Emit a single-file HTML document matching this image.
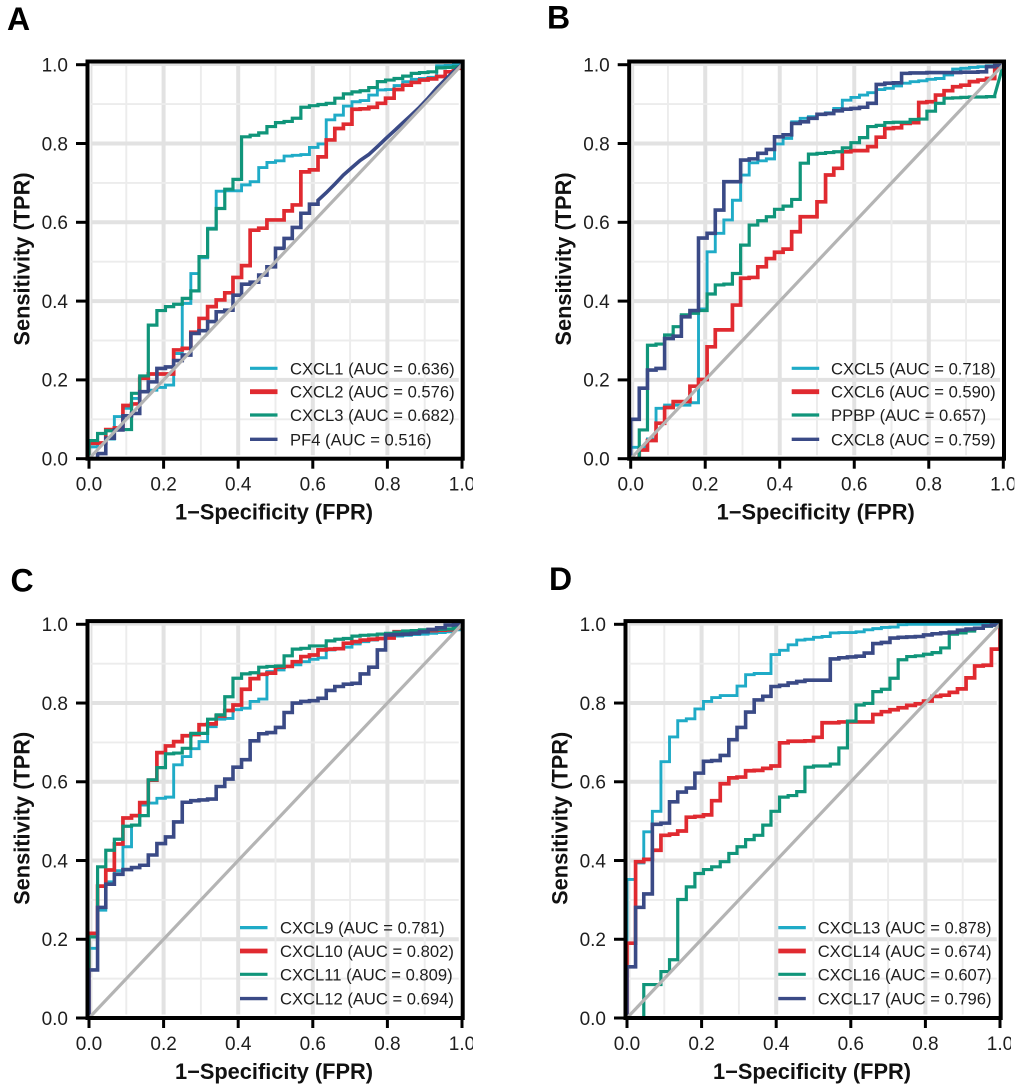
<!DOCTYPE html>
<html lang="en">
<head>
<meta charset="utf-8">
<title>ROC curves of CXCL chemokines</title>
<style>
html,body{margin:0;padding:0;background:#fff;}
svg{display:block;filter:blur(0.3px);}
text{font-family:"Liberation Sans",Arial,sans-serif;}
</style>
</head>
<body>
<svg id="figure" xmlns="http://www.w3.org/2000/svg" width="1020" height="1090" viewBox="0 0 1020 1090"></svg>
<script>
/* ---------- chart data ---------- */
const fprGrid = [0,.023,.045,.068,.091,.114,.136,.159,.182,.205,.227,.25,.273,.295,.318,.341,.364,.386,.409,.432,.455,.477,.5,.523,.545,.568,.591,.614,.636,.659,.682,.705,.727,.75,.773,.795,.818,.841,.864,.886,.909,.932,.955,.977,1];
const tickValues = [0,0.2,0.4,0.6,0.8,1];
const gridValues = [0,0.1,0.2,0.3,0.4,0.5,0.6,0.7,0.8,0.9,1];
const diagonalValues = [0,1];
const seriesColors = ['#1fabc7','#e02a30','#10957a','#3a4a86'];

const genesA = ['CXCL1','CXCL2','CXCL3','PF4'];
const aucA = [0.636,0.576,0.682,0.516];
const tprA1 = [.03,.04,.05,.107,.128,.153,.17,.174,.181,.187,.267,.394,.47,.51,.585,.679,.68,.68,.695,.703,.739,.752,.756,.768,.77,.772,.79,.799,.86,.872,.895,.906,.909,.923,.936,.937,.947,.957,.963,.965,.968,.997,.998,1,1];
const tprA2 = [.039,.04,.074,.078,.135,.139,.204,.215,.215,.215,.276,.28,.321,.356,.386,.403,.421,.46,.49,.58,.585,.606,.606,.629,.644,.728,.733,.766,.809,.838,.849,.887,.888,.892,.902,.915,.937,.948,.955,.961,.964,.97,.982,.991,1];
const tprA3 = [.046,.064,.071,.073,.074,.166,.21,.339,.376,.386,.392,.407,.426,.513,.583,.635,.684,.709,.817,.821,.827,.843,.853,.856,.864,.892,.896,.899,.902,.915,.926,.931,.934,.942,.957,.961,.965,.971,.978,.98,.982,.992,.993,.995,1];
const tprA4 = [0,.013,.052,.073,.109,.115,.17,.195,.229,.233,.249,.263,.318,.325,.348,.373,.377,.415,.443,.448,.466,.487,.534,.559,.587,.623,.646,.656,.675,.697,.72,.739,.757,.772,.792,.812,.832,.852,.872,.892,.915,.94,.962,.982,1];
const tiedTailStartA4 = 27;

const genesB = ['CXCL5','CXCL6','PPBP','CXCL8'];
const aucB = [0.718,0.590,0.657,0.759];
const tprB1 = [.029,.03,.05,.128,.136,.136,.136,.142,.38,.525,.572,.606,.656,.72,.751,.756,.761,.799,.813,.855,.864,.868,.875,.878,.889,.91,.917,.923,.929,.937,.94,.946,.953,.957,.959,.963,.965,.974,.989,.991,.993,.995,.997,.998,1];
const tprB2 = [0,.022,.046,.09,.13,.145,.145,.184,.201,.284,.327,.327,.39,.458,.46,.487,.508,.524,.532,.576,.614,.614,.652,.72,.737,.779,.782,.782,.792,.816,.838,.84,.851,.853,.904,.906,.923,.934,.944,.948,.957,.961,.965,.991,1];
const tprB3 = [0,.073,.288,.291,.314,.335,.365,.369,.376,.418,.441,.443,.47,.542,.593,.604,.614,.633,.641,.658,.75,.773,.775,.777,.779,.789,.802,.815,.843,.846,.853,.854,.854,.861,.862,.882,.902,.915,.916,.917,.918,.918,.919,.923,1];
const tprB4 = [.1,.179,.225,.229,.305,.311,.36,.376,.56,.572,.631,.703,.703,.758,.761,.775,.785,.817,.822,.851,.855,.864,.874,.876,.883,.887,.889,.892,.902,.95,.953,.954,.978,.979,.979,.98,.98,.98,.98,.981,.981,.982,.995,.998,1];
const tiedTailStartB3 = 43;

const genesC = ['CXCL9','CXCL10','CXCL11','CXCL12'];
const aucC = [0.781,0.802,0.809,0.694];
const tprC1 = [.177,.274,.346,.374,.435,.49,.541,.546,.558,.561,.643,.664,.684,.702,.74,.759,.761,.783,.787,.804,.81,.88,.884,.893,.897,.905,.911,.915,.935,.937,.942,.95,.956,.96,.964,.967,.97,.972,.974,.975,.977,.979,.981,.986,1];
const tprC2 = [.215,.335,.376,.442,.508,.514,.547,.604,.674,.691,.702,.717,.72,.745,.747,.767,.781,.795,.835,.862,.873,.876,.891,.893,.905,.918,.922,.935,.937,.938,.952,.956,.96,.962,.964,.965,.981,.981,.982,.983,.984,.985,.986,.99,1];
const tprC3 = [.206,.384,.426,.454,.487,.49,.514,.605,.636,.671,.673,.685,.723,.723,.759,.77,.816,.863,.874,.877,.891,.893,.894,.92,.937,.939,.945,.945,.958,.962,.964,.97,.972,.973,.975,.977,.98,.983,.984,.986,.986,.987,.988,.991,1];
const tprC4 = [.122,.281,.34,.365,.377,.382,.388,.414,.443,.46,.498,.548,.552,.554,.556,.588,.607,.637,.656,.704,.722,.725,.738,.776,.8,.804,.806,.812,.832,.842,.848,.85,.874,.891,.935,.973,.974,.975,.977,.981,.987,.991,.998,.999,1];

const genesD = ['CXCL13','CXCL14','CXCL16','CXCL17'];
const aucD = [0.878,0.674,0.607,0.796];
const tprD1 = [.352,.394,.473,.525,.651,.714,.755,.76,.785,.804,.814,.819,.819,.843,.872,.875,.875,.923,.934,.948,.96,.962,.967,.969,.978,.979,.979,.981,.986,.989,.992,.993,.999,1,1,1,1,1,1,1,1,1,1,1,1];
const tprD2 = [.19,.397,.403,.426,.464,.467,.475,.51,.512,.516,.552,.595,.61,.612,.628,.629,.634,.64,.699,.703,.703,.704,.713,.75,.75,.752,.752,.752,.752,.771,.778,.783,.788,.794,.798,.805,.817,.82,.827,.836,.864,.894,.896,.937,1];
const tprD3 = [0,0,.085,.085,.118,.148,.301,.333,.367,.377,.384,.397,.418,.435,.453,.464,.49,.525,.561,.565,.575,.637,.64,.64,.645,.686,.754,.795,.799,.829,.835,.863,.91,.918,.92,.924,.928,.94,.975,.978,.983,.99,.995,.998,1];
const tprD4 = [.13,.281,.315,.492,.495,.549,.574,.584,.622,.652,.654,.667,.707,.738,.777,.808,.817,.842,.845,.851,.855,.858,.858,.858,.912,.915,.917,.919,.927,.951,.954,.965,.967,.968,.969,.973,.976,.978,.98,.985,.988,.99,.996,.998,1];

/* ---------- layout (not data) ---------- */
const panels = [
  {id:'a', letter:'A', lx:7, ly:30, x0:89, x1:462, y0:458.7, y1:64.7, legLine:250, legText:290, genes:genesA, auc:aucA, tpr:[tprA1,tprA2,tprA3,tprA4], tail:[null,null,null,tiedTailStartA4]},
  {id:'b', letter:'B', lx:547, ly:28.5, x0:630.7, x1:1003.3, y0:458.7, y1:64.7, legLine:791.7, legText:831, genes:genesB, auc:aucB, tpr:[tprB1,tprB2,tprB3,tprB4], tail:[null,null,tiedTailStartB3,null]},
  {id:'c', letter:'C', lx:10.5, ly:591.5, x0:89, x1:462, y0:1018, y1:624.3, legLine:240, legText:280, genes:genesC, auc:aucC, tpr:[tprC1,tprC2,tprC3,tprC4], tail:[null,null,null,null]},
  {id:'d', letter:'D', lx:549, ly:590, x0:627, x1:1000, y0:1018, y1:624.3, legLine:778.3, legText:817.7, genes:genesD, auc:aucD, tpr:[tprD1,tprD2,tprD3,tprD4], tail:[null,null,null,null]}
];
const seriesWidths = [2.9,3.7,3.2,3.6];
const legendOffsets = [-90.4,-67,-43.7,-19.4];
const legendWidths = [3.2,4.8,3.2,3.4];

const svg = document.getElementById('figure');
const NS = 'http://www.w3.org/2000/svg';

function mk(parent, tag, attrs, label, interactive) {
  const el = document.createElementNS(NS, tag);
  for (const k in attrs) el.setAttribute(k, attrs[k]);
  
  
  parent.appendChild(el);
  return el;
}

function stepPath(xs, ys, sx, sy, tailStart) {
  let d = 'M' + sx(xs[0]).toFixed(2) + ' ' + sy(0).toFixed(2);
  for (let i = 0; i < ys.length; i++) {
    const px = sx(xs[i]).toFixed(2), py = sy(ys[i]).toFixed(2);
    if (tailStart !== null && i > tailStart) d += 'L' + px + ' ' + py;
    else d += 'H' + px + 'V' + py;
  }
  return d;
}

panels.forEach(function (p) {
  const sx = function (v) { return p.x0 + v * (p.x1 - p.x0); };
  const sy = function (v) { return p.y0 - v * (p.y0 - p.y1); };
  const g = mk(svg, 'g', {}, 'panel-' + p.id, false);

  const clip = document.createElementNS(NS, 'clipPath');
  clip.setAttribute('id', 'labels-clip-' + p.id);
  const clipRect = document.createElementNS(NS, 'rect');
  clipRect.setAttribute('x', p.x0 - 40);
  clipRect.setAttribute('y', p.y0);
  clipRect.setAttribute('width', p.x1 - p.x0 + 51);
  clipRect.setAttribute('height', 45);
  clip.appendChild(clipRect);
  g.appendChild(clip);

  mk(g, 'text', {x:p.lx, y:p.ly, 'font-size':32, 'font-weight':'bold', fill:'#000'}, 'panel-letter-' + p.id, false).textContent = p.letter;

  /* grid */
  const gridG = mk(g, 'g', {}, 'grid-' + p.id, false);
  const gx0 = p.x0 + 2, gx1 = p.x1 - 3.2, gy0 = p.y0 - 3.5, gy1 = p.y1 - 0.5;
  gridValues.forEach(function (v, i) {
    const major = i % 2 === 0;
    const col = major ? '#e2e2e2' : '#ececec';
    const w = major ? 4 : 1.9;
    if (v > 0) {
      mk(gridG, 'line', {x1:gx0, x2:gx1, y1:sy(v), y2:sy(v), stroke:col, 'stroke-width': v === 1 ? 2.6 : w}, 'grid-line-y', false);
    }
    if (v < 1) {
      mk(gridG, 'line', {x1:sx(v) + (v === 0 ? 2.5 : 0), x2:sx(v) + (v === 0 ? 2.5 : 0), y1:gy0, y2:gy1, stroke:col, 'stroke-width': v === 0 ? 1.9 : w}, 'grid-line-x', false);
    }
  });

  /* curves */
  p.tpr.forEach(function (ys, i) {
    mk(g, 'path', {d:stepPath(fprGrid, ys, sx, sy, p.tail[i]), fill:'none', stroke:seriesColors[i], 'stroke-width':seriesWidths[i], 'stroke-linejoin':'miter'}, 'roc-curve-' + p.genes[i].toLowerCase(), false);
  });

  /* reference diagonal */
  mk(g, 'line', {x1:sx(diagonalValues[0]), y1:sy(diagonalValues[0]), x2:sx(diagonalValues[1]), y2:sy(diagonalValues[1]), stroke:'#b4b4b4', 'stroke-width':3.2}, 'diagonal-reference-line', false);

  /* frame */
  mk(g, 'rect', {x:p.x0 - 1.5, y:p.y1 - 3.2, width:p.x1 - p.x0 + 2.2, height:p.y0 - p.y1 + 3.2, fill:'none', stroke:'#000', 'stroke-width':4}, 'plot-frame', false);

  /* ticks + tick labels */
  const labelsG = mk(g, 'g', {'clip-path':'url(#labels-clip-' + p.id + ')'}, 'x-tick-labels', false);
  tickValues.forEach(function (v) {
    mk(g, 'line', {x1:p.x0 - 13, x2:p.x0 - 2, y1:sy(v), y2:sy(v), stroke:'#000', 'stroke-width':3}, 'y-tick', false);
    mk(g, 'line', {x1:sx(v), x2:sx(v), y1:p.y0, y2:p.y0 + 10, stroke:'#000', 'stroke-width':3}, 'x-tick', false);
    mk(g, 'text', {x:p.x0 - 21, y:sy(v) + 6.8, 'font-size':19, 'text-anchor':'end', fill:'#1e1e1e'}, 'y-tick-label', false).textContent = v.toFixed(1);
    mk(labelsG, 'text', {x:sx(v), y:p.y0 + 31.8, 'font-size':19, 'text-anchor':'middle', fill:'#1e1e1e'}, 'x-tick-label', false).textContent = v.toFixed(1);
  });

  /* axis titles */
  mk(g, 'text', {x:p.x0 + 185, y:p.y0 + 61, 'font-size':21.8, 'font-weight':'bold', 'text-anchor':'middle', fill:'#111'}, 'x-axis-title', false).textContent = '1\u2212Specificity (FPR)';
  const yt = p.y0 - 199.7;
  mk(g, 'text', {x:0, y:0, transform:'translate(' + (p.x0 - 59.5) + ',' + yt + ') rotate(-90)', 'font-size':21.8, 'font-weight':'bold', 'text-anchor':'middle', fill:'#111'}, 'y-axis-title', false).textContent = 'Sensitivity (TPR)';

  /* legend */
  const legG = mk(g, 'g', {}, 'legend', false);
  p.genes.forEach(function (gene, i) {
    const ly = p.y0 + legendOffsets[i];
    mk(legG, 'line', {x1:p.legLine, x2:p.legLine + 27.5, y1:ly, y2:ly, stroke:seriesColors[i], 'stroke-width':legendWidths[i]}, 'legend-swatch-' + gene.toLowerCase(), false);
    mk(legG, 'text', {x:p.legText, y:ly + 6, 'font-size':16.6, fill:'#1e1e1e'}, 'legend-entry-' + gene.toLowerCase(), false).textContent = gene + ' (AUC = ' + p.auc[i].toFixed(3) + ')';
  });
});
</script>
</body>
</html>
